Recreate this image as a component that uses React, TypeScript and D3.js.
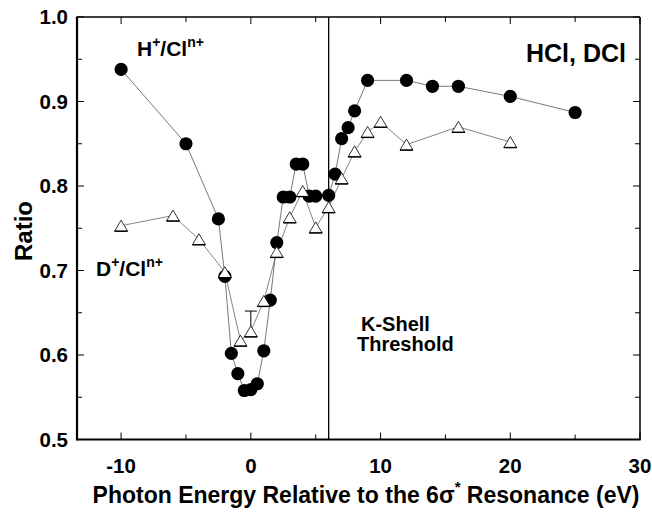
import React from 'react';
import * as d3 from 'd3';

const hEnergy = [-10, -5, -2.5, -2, -1.5, -1, -0.5, 0, 0.5, 1, 1.5, 2, 2.5, 3, 3.5, 4, 4.5, 5, 6, 6.5, 7, 7.5, 8, 9, 12, 14, 16, 20, 25];
const hRatio = [0.938, 0.850, 0.761, 0.693, 0.602, 0.578, 0.558, 0.559, 0.566, 0.605, 0.665, 0.733, 0.787, 0.787, 0.826, 0.826, 0.788, 0.788, 0.789, 0.814, 0.856, 0.869, 0.889, 0.925, 0.925, 0.918, 0.918, 0.906, 0.887];
const dEnergy = [-10, -6, -4, -2, -0.8, 0, 1, 2, 3, 4, 5, 6, 7, 8, 9, 10, 12, 16, 20];
const dRatio = [0.753, 0.765, 0.737, 0.698, 0.617, 0.628, 0.664, 0.722, 0.763, 0.794, 0.751, 0.775, 0.809, 0.841, 0.864, 0.876, 0.849, 0.870, 0.852];
const dErrorEnergy = [0];
const dErrorTop = [0.652];
const dErrorBase = [0.628];

const xMajorTicks = [-10, 0, 10, 20, 30];
const xMinorTicks = [-5, 5, 15, 25];
const yMajorTicks = [0.5, 0.6, 0.7, 0.8, 0.9, 1.0];
const yMinorTicks = [0.55, 0.65, 0.75, 0.85, 0.95];
const thresholdEnergy = 6;

const FONT = '"Liberation Sans", Arial, Helvetica, sans-serif';

export default function App() {
  const W = 652, H = 515;
  const left = 77, right = 640, top = 17, bottom = 439.5;
  const x = d3.scaleLinear().domain([-13.4, 30]).range([left, right]);
  const y = d3.scaleLinear().domain([0.5, 1.0]).range([bottom, top]);

  const hPts = hEnergy.map((e, i) => [e, hRatio[i]] as [number, number]);
  const dPts = dEnergy.map((e, i) => [e, dRatio[i]] as [number, number]);
  const line = d3.line<[number, number]>().x(d => x(d[0])).y(d => y(d[1]));

  const tri = (cx: number, cy: number) => {
    const w = 6.5, h = 5.5;
    return `M${cx},${cy - h}L${cx + w},${cy + h}L${cx - w},${cy + h}Z`;
  };

  const maj = 7, mnr = 5;

  return (
    <svg width={W} height={H} style={{ position: 'absolute', left: 0, top: 0, background: '#fff' }} fontFamily={FONT}>
      <rect x={0} y={0} width={W} height={H} fill="#fff" />
      {/* ticks */}
      <g stroke="#000" strokeWidth={1}>
        {xMajorTicks.map(t => (
          <g key={'xm' + t}>
            <line x1={x(t)} x2={x(t)} y1={bottom} y2={bottom - maj} />
            <line x1={x(t)} x2={x(t)} y1={top} y2={top + maj} />
          </g>
        ))}
        {xMinorTicks.map(t => (
          <g key={'xn' + t}>
            <line x1={x(t)} x2={x(t)} y1={bottom} y2={bottom - mnr} />
            <line x1={x(t)} x2={x(t)} y1={top} y2={top + mnr} />
          </g>
        ))}
        {yMajorTicks.map(t => (
          <g key={'ym' + t}>
            <line x1={left} x2={left + maj} y1={y(t)} y2={y(t)} />
            <line x1={right} x2={right - maj} y1={y(t)} y2={y(t)} />
          </g>
        ))}
        {yMinorTicks.map(t => (
          <g key={'yn' + t}>
            <line x1={left} x2={left + mnr} y1={y(t)} y2={y(t)} />
            <line x1={right} x2={right - mnr} y1={y(t)} y2={y(t)} />
          </g>
        ))}
      </g>
      {/* frame */}
      <line x1={left} x2={right} y1={top} y2={top} stroke="#000" strokeWidth={1.3} />
      <line x1={right} x2={right} y1={top} y2={bottom} stroke="#000" strokeWidth={1.5} />
      <line x1={left} x2={left} y1={top - 0.6} y2={bottom + 1} stroke="#000" strokeWidth={2.2} />
      <line x1={left} x2={right + 0.7} y1={bottom} y2={bottom} stroke="#000" strokeWidth={2.2} />
      {/* threshold */}
      <line x1={x(thresholdEnergy)} x2={x(thresholdEnergy)} y1={top} y2={bottom} stroke="#000" strokeWidth={1.3} />

      {/* tick labels */}
      <g fontSize={20.5} fontWeight="bold" fill="#000">
        {xMajorTicks.map(t => (
          <text key={'xl' + t} x={x(t)} y={473} textAnchor="middle">{t}</text>
        ))}
        {yMajorTicks.map(t => (
          <text key={'yl' + t} x={68} y={y(t)} dy="0.36em" textAnchor="end">{d3.format('.1f')(t)}</text>
        ))}
      </g>

      {/* lines */}
      <path d={line(dPts) || ''} fill="none" stroke="#666" strokeWidth={0.8} />
      <path d={line(hPts) || ''} fill="none" stroke="#555" strokeWidth={0.8} />

      {/* error bar */}
      {dErrorEnergy.map((e, i) => (
        <g key={'eb' + i} stroke="#000" strokeWidth={1}>
          <line x1={x(e)} x2={x(e)} y1={y(dErrorTop[i])} y2={y(dErrorBase[i])} />
          <line x1={x(e) - 6} x2={x(e) + 6} y1={y(dErrorTop[i])} y2={y(dErrorTop[i])} />
        </g>
      ))}

      {/* circles */}
      {hPts.map((p, i) => (
        <circle key={'c' + i} cx={x(p[0])} cy={y(p[1])} r={6.6} fill="#000" />
      ))}
      {/* triangles */}
      {dPts.map((p, i) => (
        <g key={'t' + i}>
          <path d={tri(x(p[0]), y(p[1]))} fill="#fff" stroke="#000" strokeWidth={0.8} />
          <line x1={x(p[0]) - 6.5} x2={x(p[0]) + 6.5} y1={y(p[1]) + 5.5} y2={y(p[1]) + 5.5} stroke="#000" strokeWidth={1.4} />
        </g>
      ))}

      {/* annotations */}
      <g fontWeight="bold" fill="#000">
        <text x={137} y={56} fontSize={21}>
          H<tspan fontSize={14} dy={-9}>+</tspan><tspan dy={9}>/Cl</tspan><tspan fontSize={14} dy={-9}>n+</tspan>
        </text>
        <text x={96} y={276} fontSize={21}>
          D<tspan fontSize={14} dy={-9}>+</tspan><tspan dy={9}>/Cl</tspan><tspan fontSize={14} dy={-9}>n+</tspan>
        </text>
        <text x={526} y={62} fontSize={25}>HCl, DCl</text>
        <text x={361} y={331} fontSize={20}>K-Shell</text>
        <text x={357} y={351} fontSize={20}>Threshold</text>
        <text transform="translate(32,231) rotate(-90)" textAnchor="middle" fontSize={24}>Ratio</text>
        <text x={366} y={503} textAnchor="middle" fontSize={23}>
          Photon Energy Relative to the 6σ<tspan fontSize={15} dy={-11}>*</tspan><tspan dy={11}> Resonance (eV)</tspan>
        </text>
      </g>
    </svg>
  );
}
